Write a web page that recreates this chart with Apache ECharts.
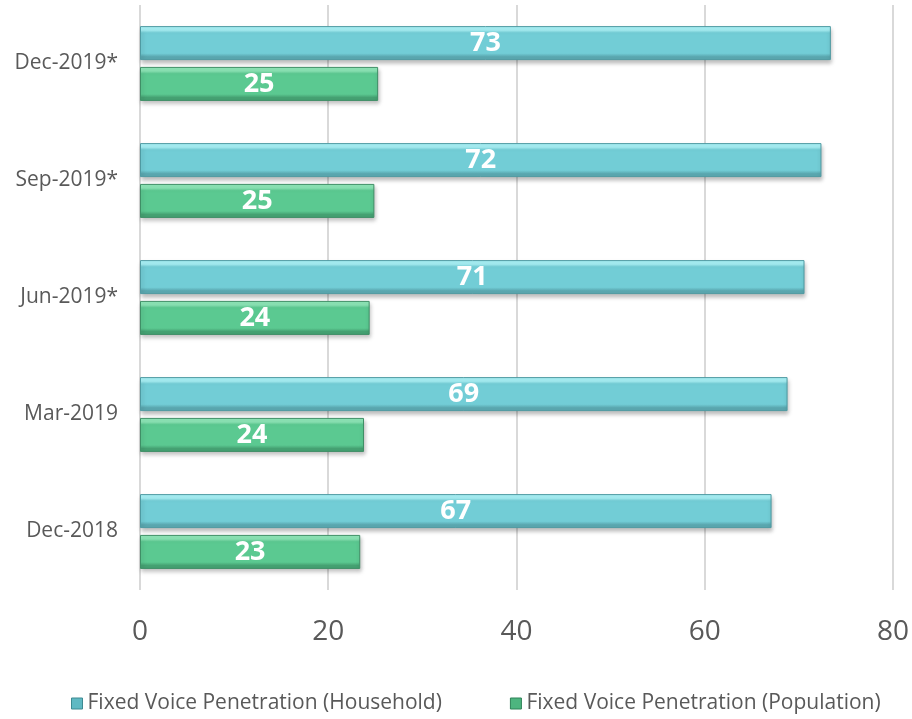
<!DOCTYPE html>
<html><head><meta charset="utf-8">
<script src="https://cdn.jsdelivr.net/npm/echarts@6/dist/echarts.min.js"></script>
<style>html,body{margin:0;padding:0;background:#fff}#c{width:912px;height:719px}</style>
</head><body><div id="c"></div>
<script>
const categories = ['Dec-2018', 'Mar-2019', 'Jun-2019*', 'Sep-2019*', 'Dec-2019*'];
const household = [67.1, 68.8, 70.6, 72.4, 73.4];
const population = [23.4, 23.8, 24.4, 24.9, 25.3];
const xTicks = [0, 20, 40, 60, 80];
const nameHouse = 'Fixed Voice Penetration (Household)';
const namePop = 'Fixed Voice Penetration (Population)';

const FONT = '"Open Sans", "Noto Sans", sans-serif';
function grad(light, mid, dark) {
  return new echarts.graphic.LinearGradient(0, 0, 0, 1, [
    {offset: 0, color: light}, {offset: 0.12, color: light},
    {offset: 0.2, color: mid}, {offset: 0.8, color: mid},
    {offset: 0.9, color: dark}, {offset: 1, color: dark}
  ]);
}
const houseColor = grad('#A9F3F8', '#72CDD6', '#5AA7AF');
const popColor = grad('#8EE8B8', '#5BC991', '#45A172');

const chart = echarts.init(document.getElementById('c'));
const labelCfg = {
  show: true, position: 'inside', color: '#fff', fontWeight: 'bold', fontSize: 27,
  fontFamily: FONT, formatter: p => Math.round(p.value)
};
chart.setOption({
  animation: false,
  grid: {left: 140, right: 17, top: 5, bottom: 129, containLabel: false},
  legend: {
    bottom: 0, left: 66, itemGap: 68, itemWidth: 11, itemHeight: 11,
    icon: 'rect',
    textStyle: {fontSize: 21, color: '#595959', fontFamily: FONT},
    data: [{name: nameHouse, itemStyle: {color: '#5FB9C3', borderColor: '#3E8A92', borderWidth: 1}},
           {name: namePop, itemStyle: {color: '#4DB57F', borderColor: '#2F8258', borderWidth: 1}}]
  },
  xAxis: {
    type: 'value', min: 0, max: 80, interval: 20,
    axisLine: {show: false},
    axisTick: {show: false},
    splitLine: {show: true, lineStyle: {color: '#D9D9D9', width: 2}},
    axisLabel: {fontSize: 28, color: '#595959', fontFamily: FONT, margin: 28,
      formatter: v => xTicks.includes(v) ? String(v) : ''}
  },
  yAxis: {
    type: 'category', data: categories,
    axisLine: {show: false}, axisTick: {show: false},
    axisLabel: {fontSize: 21, color: '#595959', fontFamily: FONT, margin: 22}
  },
  series: [
    {name: nameHouse, type: 'bar', data: household, barWidth: 34, barGap: '20%',
     itemStyle: {color: houseColor, borderColor: '#4F9AA2', borderWidth: 1,
       shadowBlur: 4, shadowOffsetY: 3, shadowOffsetX: 1, shadowColor: 'rgba(0,0,0,0.25)'},
     label: labelCfg},
    {name: namePop, type: 'bar', data: population, barWidth: 34, barGap: '20%',
     itemStyle: {color: popColor, borderColor: '#3F8F66', borderWidth: 1,
       shadowBlur: 4, shadowOffsetY: 3, shadowOffsetX: 1, shadowColor: 'rgba(0,0,0,0.25)'},
     label: labelCfg}
  ]
});
</script></body></html>
